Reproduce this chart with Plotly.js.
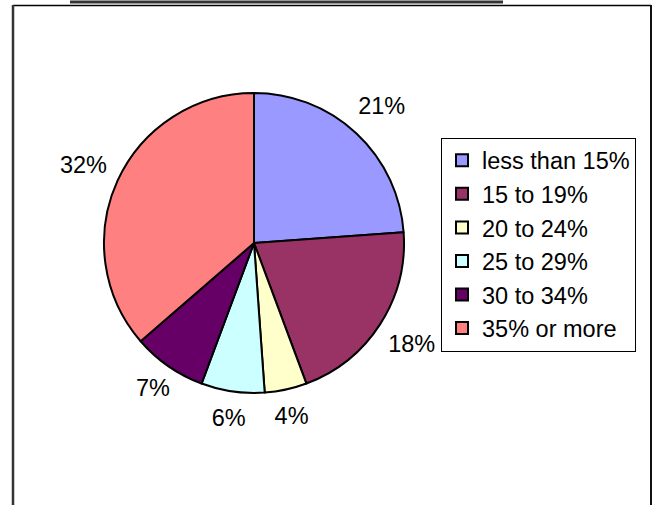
<!DOCTYPE html>
<html>
<head>
<meta charset="utf-8">
<script src="https://cdn.plot.ly/plotly-3.0.1.min.js"></script>
<style>html,body{margin:0;padding:0;background:#fff;}#chart{width:657px;height:505px;}</style>
</head>
<body>
<div id="chart"></div>
<script>
const categories = ["less than 15%", "15 to 19%", "20 to 24%", "25 to 29%", "30 to 34%", "35% or more"];
const values = [21, 18, 4, 6, 7, 32];
const sliceColors = ["#9999FF", "#993366", "#FFFFCC", "#CCFFFF", "#660066", "#FF8080"];

const W = 657, H = 505;
const cx = 254, cy = 243, r = 150;
const FONT = "Liberation Sans, Arial, sans-serif";
const FS = 23.5;

function dom(rad) {
  return {x: [(cx - rad) / W, (cx + rad) / W], y: [(H - cy - rad) / H, (H - cy + rad) / H]};
}

const pieTrace = {
  type: "pie",
  labels: categories,
  values: values,
  sort: false,
  direction: "clockwise",
  rotation: 0,
  marker: {colors: sliceColors, line: {color: "#000000", width: 2}},
  textinfo: "none",
  hoverinfo: "label+value",
  domain: dom(r)
};

// Transparent rings carrying the percentage labels just outside the visible pie.
function labelRing(radius, hole, keep) {
  return {
    type: "pie",
    labels: categories,
    values: values,
    sort: false,
    direction: "clockwise",
    rotation: 0,
    hole: hole,
    showlegend: false,
    marker: {colors: categories.map(() => "rgba(0,0,0,0)"), line: {width: 0}},
    text: values.map((v, i) => keep(v) ? v + "%" : ""),
    textinfo: "text",
    textposition: "inside",
    insidetextorientation: "horizontal",
    textfont: {family: FONT, size: FS, color: "#000000"},
    hoverinfo: "skip",
    domain: dom(radius)
  };
}

const bigLabels = labelRing(218, 0.72, v => v >= 10);
const smallLabels = labelRing(200, 0.77, v => v < 10);

const layout = {
  width: W, height: H,
  margin: {l: 0, r: 0, t: 0, b: 0},
  paper_bgcolor: "#ffffff",
  font: {family: FONT, size: FS, color: "#000000"},
  uniformtext: {mode: "show", minsize: FS},
  showlegend: true,
  legend: {
    x: 441 / W, xanchor: "left",
    y: (H - 244.5) / H, yanchor: "middle",
    bordercolor: "#000000", borderwidth: 1,
    bgcolor: "#ffffff",
    font: {family: FONT, size: FS, color: "#000000"},
    traceorder: "normal"
  },
  shapes: [
    {type: "line", xref: "paper", yref: "paper", x0: 70 / W, x1: 503 / W, y0: (H - 2) / H, y1: (H - 2) / H, line: {color: "#333333", width: 3}},
    {type: "line", xref: "paper", yref: "paper", x0: 13 / W, x1: 651 / W, y0: (H - 5.5) / H, y1: (H - 5.5) / H, line: {color: "#000000", width: 1.5}},
    {type: "line", xref: "paper", yref: "paper", x0: 13 / W, x1: 13 / W, y0: 0, y1: (H - 5) / H, line: {color: "#333333", width: 2.5}},
    {type: "line", xref: "paper", yref: "paper", x0: 651 / W, x1: 651 / W, y0: 0, y1: (H - 5) / H, line: {color: "#111111", width: 2}}
  ]
};

Plotly.newPlot("chart", [pieTrace, bigLabels, smallLabels], layout, {displayModeBar: false, staticPlot: true});
</script>
</body>
</html>
